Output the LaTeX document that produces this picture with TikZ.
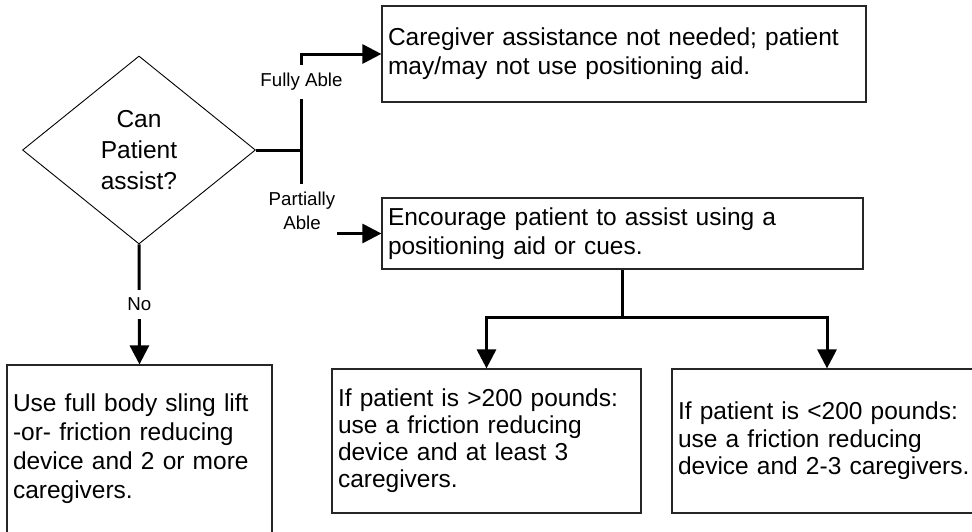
\documentclass[tikz,border=0pt]{standalone}
\usepackage{fontspec}
\setmainfont{Liberation Sans}
\usetikzlibrary{shapes.geometric,arrows.meta}
\begin{document}
\begin{tikzpicture}[x=1pt,y=-1pt,
  box/.style={draw=black!85, line width=1.2pt, rectangle, inner xsep=6pt,
    inner ysep=0pt, align=left, font=\fontsize{24.5}{29}\selectfont},
  decision/.style={draw, diamond, line width=0.9pt, inner sep=0pt,
    minimum width=233pt, minimum height=188pt, align=center,
    font=\fontsize{24.5}{31}\selectfont},
  conn/.style={line width=3pt},
  flow/.style={conn, -{Triangle[length=19pt,width=19pt]}},
  lbl/.style={fill=white, inner xsep=2pt, inner ysep=8pt,
    font=\fontsize{18.7}{24}\selectfont, align=center}]

% page frame
\clip (0,0) rectangle (972,531);
\fill[white] (0,0) rectangle (972,531);

% decision and outcome boxes
\node[decision] (dia) at (139,150) {Can\\Patient\\assist?};

\node[box, text width=472pt, minimum height=96pt] (full) at (624,54)
  {Caregiver assistance not needed; patient\\may/may not use positioning aid.};

\node[box, text width=469pt, minimum height=71pt] (enc) at (622.5,233.5)
  {Encourage patient to assist using a\\positioning aid or cues.};

\node[box, text width=253pt, minimum height=168pt] (use) at (139.5,449)
  {Use full body sling lift\\-or- friction reducing\\device and 2 or more\\caregivers.};

\node[box, text width=297pt, minimum height=144pt, font=\fontsize{24.5}{27}\selectfont] (gt) at (486.5,441)
  {If patient is >200 pounds:\\use a friction reducing\\device and at least 3\\caregivers.};

\node[box, text width=298pt, minimum height=144pt, font=\fontsize{24.5}{27.5}\selectfont] (lt) at (827,441)
  {If patient is <200 pounds:\\use a friction reducing\\device and 2-3 caregivers.};

% branch from the decision to the right
\coordinate (jn) at (301,150);
\draw[conn] (dia.east) -- (jn);
\draw[flow] (jn) |- (full.west);
\draw[flow] (jn) |- (enc.west);
\node[lbl] (fa) at (301.5,82) {Fully Able};
\node[lbl] (pa) at (302,211) {Partially\\Able};

% branch downwards
\draw[flow] (dia.south) -- (use.north) node[lbl, midway] (no) {No};

% fork below the encourage box
\draw[conn] (enc.south) -- ++(0,48) coordinate (fork);
\draw[flow] (fork) -| (gt.north);
\draw[flow] (fork) -| (lt.north);
\end{tikzpicture}
\end{document}
